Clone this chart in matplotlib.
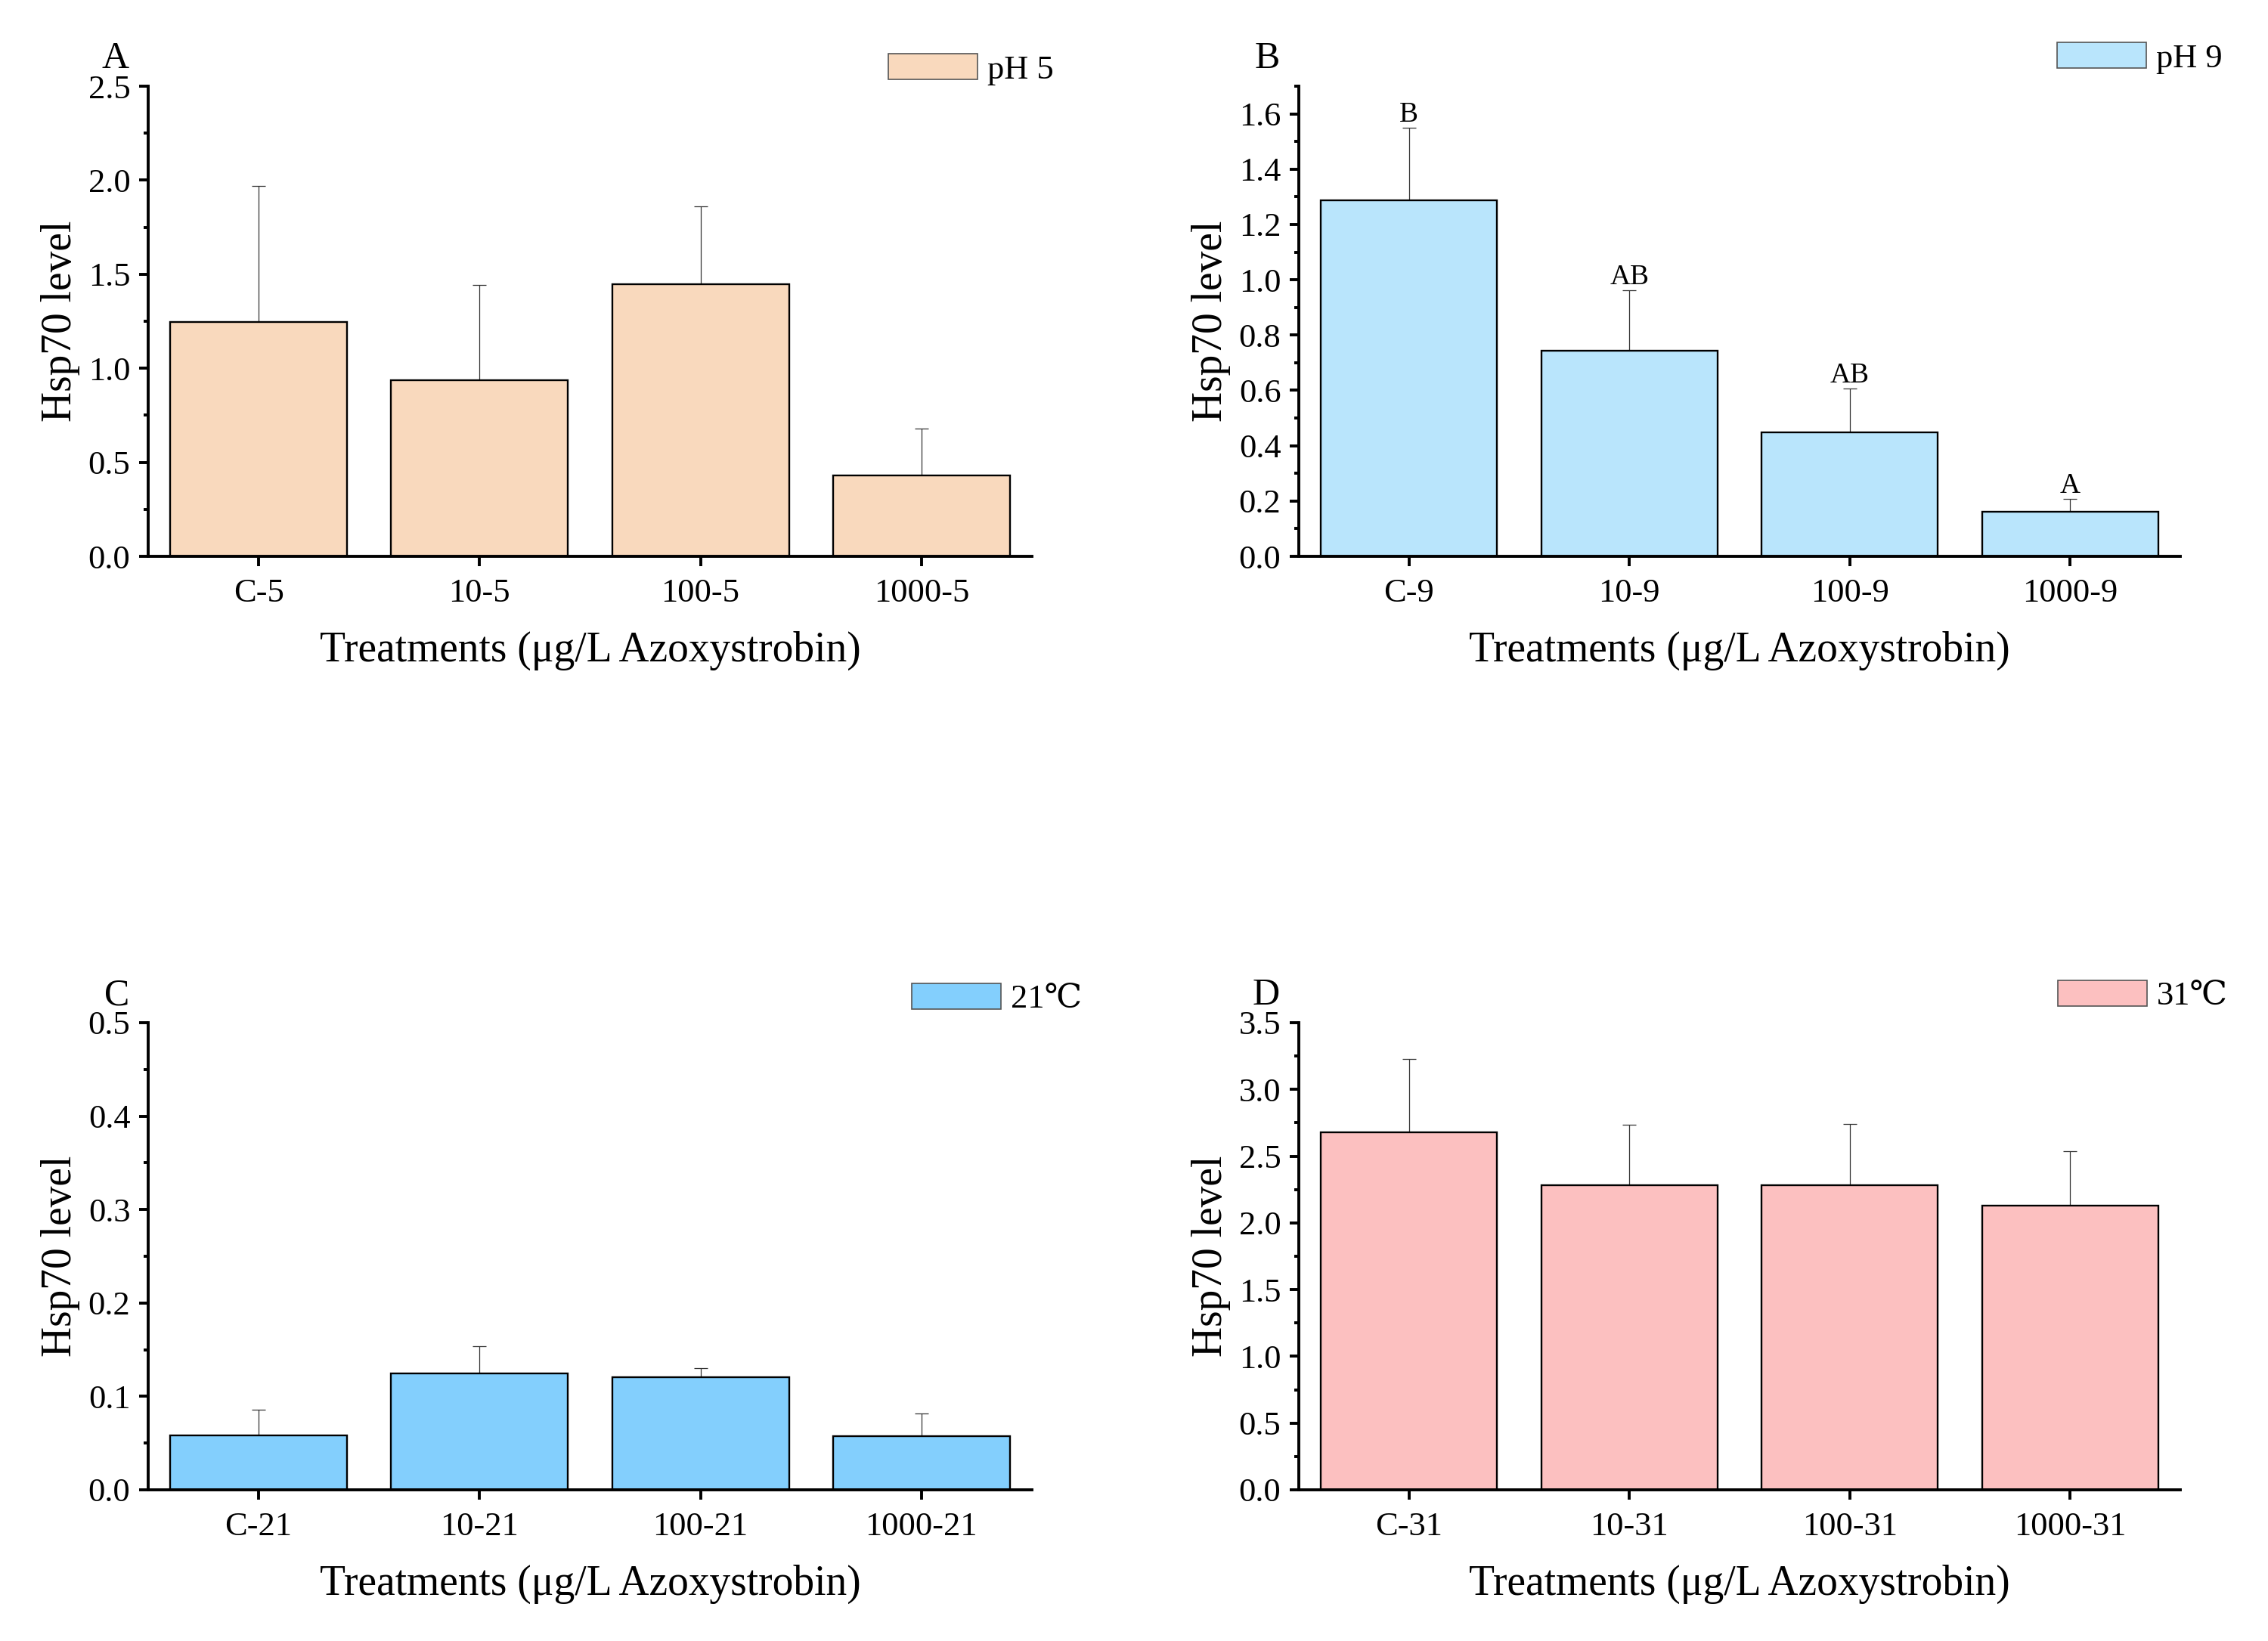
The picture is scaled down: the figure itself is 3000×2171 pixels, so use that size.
import matplotlib
matplotlib.use('Agg')
import matplotlib.pyplot as plt
from matplotlib.ticker import MultipleLocator
import numpy as np

plt.rcParams['font.family'] = ['Liberation Serif', 'DejaVu Serif']
plt.rcParams['mathtext.fontset'] = 'stix'

# data
labels_a = ['C-5', '10-5', '100-5', '1000-5']
mean_a = [1.244, 0.935, 1.448, 0.429]
top_a = [1.971, 1.441, 1.862, 0.680]

labels_b = ['C-9', '10-9', '100-9', '1000-9']
mean_b = [1.286, 0.743, 0.448, 0.161]
top_b = [1.550, 0.961, 0.606, 0.207]
letters_b = ['B', 'AB', 'AB', 'A']

labels_c = ['C-21', '10-21', '100-21', '1000-21']
mean_c = [0.058, 0.1245, 0.1205, 0.0574]
top_c = [0.086, 0.154, 0.130, 0.082]

labels_d = ['C-31', '10-31', '100-31', '1000-31']
mean_d = [2.681, 2.281, 2.281, 2.132]
top_d = [3.230, 2.733, 2.740, 2.538]

W, H = 3000, 2171
fig = plt.figure(figsize=(15, 10.855), dpi=200)

def px_box(l, r, t, b):
    return [l / W, 1 - b / H, (r - l) / W, (b - t) / H]

panels = [
    # letter, labels, mean, top, color, legend, ylim, major, minor, box, letter pos, legend pos
    ('A', labels_a, mean_a, top_a, '#F9D9BD', 'pH 5', 2.5, 0.5, 0.25,
     (196, 1365, 114, 736), (153, 90), (1175, 92)),
    ('B', labels_b, mean_b, top_b, '#B9E5FC', 'pH 9', 1.7, 0.2, 0.1,
     (1718, 2884, 114, 736), (1676, 90), (2721, 77)),
    ('C', labels_c, mean_c, top_c, '#83CFFD', '21\u2103', 0.5, 0.1, 0.05,
     (196, 1365, 1353, 1971), (155, 1330), (1206, 1322)),
    ('D', labels_d, mean_d, top_d, '#FCC0C0', '31\u2103', 3.5, 0.5, 0.25,
     (1718, 2884, 1353, 1971), (1675, 1329), (2722, 1318)),
]

for (letter, labels, mean, top, color, leg, ymax, major, minor,
     box, lpos, legpos) in panels:
    ax = fig.add_axes(px_box(*box))
    x = np.arange(len(labels))
    mean = np.array(mean)
    err = np.array(top) - mean
    ax.bar(x, mean, width=0.8, color=color, edgecolor='black', linewidth=0.85,
           label=leg, zorder=2,
           yerr=[np.zeros_like(err), err],
           error_kw=dict(ecolor='#333333', elinewidth=0.45, capsize=3.4,
                         capthick=0.45, zorder=1))
    ax.set_xlim(-0.5, 3.5)
    ax.set_ylim(0, ymax)
    ax.set_xticks(x)
    ax.set_xticklabels(labels, fontsize=16)
    ax.yaxis.set_major_locator(MultipleLocator(major))
    ax.yaxis.set_minor_locator(MultipleLocator(minor))
    ax.yaxis.set_major_formatter(plt.FormatStrFormatter('%.1f'))
    for s in ['top', 'right']:
        ax.spines[s].set_visible(False)
    for s in ['left', 'bottom']:
        ax.spines[s].set_linewidth(1.4)
    ax.tick_params(axis='both', which='major', length=4.5, width=1.4,
                   labelsize=16, direction='out')
    ax.tick_params(axis='y', which='minor', length=2.3, width=1.4)
    ax.tick_params(axis='y', pad=4)
    ax.tick_params(axis='x', pad=6)
    ax.set_ylabel('Hsp70 level', fontsize=20, labelpad=4)
    ax.set_xlabel('Treatments (\u03bcg/L Azoxystrobin)', fontsize=20, labelpad=10.5)

    if letter == 'B':
        for xi, t, lt in zip(x, top, letters_b):
            ax.annotate(lt, (xi, t), xytext=(0, 3), textcoords='offset points',
                        ha='center', va='baseline', fontsize=13.5)

    fig.text(lpos[0] / W, 1 - lpos[1] / H, letter, ha='center', va='baseline',
             fontsize=18)
    lg = ax.legend(loc='center left', bbox_to_anchor=(legpos[0] / W, 1 - legpos[1] / H),
                   bbox_transform=fig.transFigure, frameon=False, fontsize=16,
                   handlelength=2.65, handleheight=0.8, handletextpad=0.3,
                   borderpad=0, borderaxespad=0)
    for h in lg.legend_handles:
        h.set_edgecolor('#555555')
        h.set_linewidth(0.6)

fig.savefig('out.png', dpi=200)
